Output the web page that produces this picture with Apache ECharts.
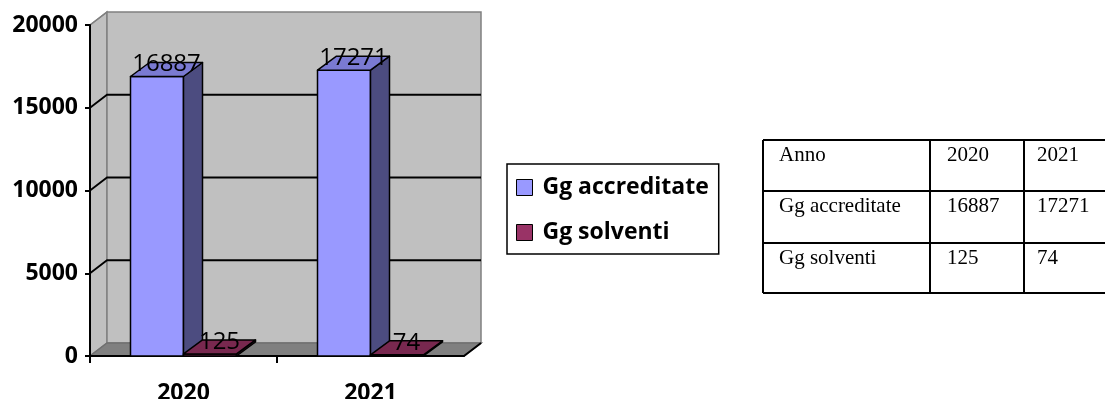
<!DOCTYPE html>
<html>
<head>
<meta charset="utf-8">
<script src="https://cdn.jsdelivr.net/npm/echarts@6/dist/echarts.min.js"></script>
<style>
  html, body { margin: 0; padding: 0; background: #ffffff; }
  #chart { width: 1105px; height: 399px; }
</style>
</head>
<body>
<div id="chart"></div>
<script>
// ---- data ----
const years = ['2020', '2021'];
const seriesNames = ['Gg accreditate', 'Gg solventi'];
const accreditate = [16887, 17271];
const solventi = [125, 74];
const yTicks = [0, 5000, 10000, 15000, 20000];
const tableHeadLabel = 'Anno';

// ---- 3D look ----
const WALL_DX = 17, WALL_DY = -13;   // depth of the chart walls
const BAR_DX = 19, BAR_DY = -14;     // depth of each column
const BAR_W = 53;                    // front face width of each column

const palette = {
  accreditate: { front: '#9999ff', top: '#7a7ad2', side: '#4c4c80' },
  solventi:    { front: '#993366', top: '#78284f', side: '#4d1a33' }
};

const AXIS_FONT = '"Open Sans", "Noto Sans", sans-serif';

function column(colors, side) {
  return function (params, api) {
    const cat = api.value(0), val = api.value(1);
    const top = api.coord([cat, val]);
    const base = api.coord([cat, 0]);
    const x0 = side < 0 ? top[0] - BAR_W : top[0];
    const x1 = x0 + BAR_W;
    const yT = top[1], yB = base[1];
    const edge = { stroke: '#000', lineWidth: 1.5, lineJoin: 'round' };
    return {
      type: 'group',
      children: [
        { type: 'polygon', shape: { points: [[x0, yB], [x1, yB], [x1, yT], [x0, yT]] },
          style: Object.assign({ fill: colors.front }, edge) },
        { type: 'polygon', shape: { points: [[x1, yB], [x1 + BAR_DX, yB + BAR_DY], [x1 + BAR_DX, yT + BAR_DY], [x1, yT]] },
          style: Object.assign({ fill: colors.side }, edge) },
        { type: 'polygon', shape: { points: [[x0, yT], [x1, yT], [x1 + BAR_DX, yT + BAR_DY], [x0 + BAR_DX, yT + BAR_DY]] },
          style: Object.assign({ fill: colors.top }, edge) },
        { type: 'text', z2: 10,
          style: { text: String(val), x: (x0 + x1) / 2 + BAR_DX / 2, y: yT,
                   align: 'center', verticalAlign: 'bottom',
                   textAlign: 'center', textVerticalAlign: 'bottom',
                   font: '500 24px ' + AXIS_FONT, fill: '#000' } }
      ]
    };
  };
}

function walls(params, api) {
  const cs = params.coordSys;
  const L = cs.x, R = cs.x + cs.width, T = cs.y, B = cs.y + cs.height;
  const dx = WALL_DX, dy = WALL_DY;
  const children = [
    { type: 'polygon', shape: { points: [[L, B], [L + dx, B + dy], [L + dx, T + dy], [L, T]] },
      style: { fill: '#c0c0c0', stroke: '#808080', lineWidth: 1.5 } },
    { type: 'polygon', shape: { points: [[L + dx, T + dy], [R + dx, T + dy], [R + dx, B + dy], [L + dx, B + dy]] },
      style: { fill: '#c0c0c0', stroke: '#808080', lineWidth: 1.5 } },
    { type: 'polygon', shape: { points: [[L, B], [R, B], [R + dx, B + dy], [L + dx, B + dy]] },
      style: { fill: '#808080', stroke: '#707070', lineWidth: 1.5 } },
    { type: 'line', shape: { x1: R, y1: B, x2: R + dx, y2: B + dy },
      style: { stroke: '#000', lineWidth: 2 } },
    { type: 'line', shape: { x1: L, y1: T, x2: L + dx, y2: T + dy },
      style: { stroke: '#808080', lineWidth: 1.5 } }
  ];
  yTicks.slice(1, -1).forEach(function (v) {
    const y = api.coord([0, v])[1];
    children.push({ type: 'polyline', shape: { points: [[L, y], [L + dx, y + dy], [R + dx, y + dy]] },
      style: { stroke: '#000', lineWidth: 1.8, fill: null } });
  });
  // category boundary ticks below the front edge (none at the far right end)
  const band = api.size([1, 0])[0];
  years.forEach(function (y, i) {
    const x = Math.round(L + i * band);
    children.push({ type: 'line', shape: { x1: x, y1: B, x2: x, y2: B + 7 },
      style: { stroke: '#000', lineWidth: 2 } });
  });
  return { type: 'group', children: children };
}

// ---- data table on the right ----
function buildTable() {
  const colX = [763, 930, 1024, 1130];
  const rowY = [140, 191, 243, 293];
  const textX = [779, 947, 1037];
  const rows = [
    [tableHeadLabel].concat(years),
    [seriesNames[0]].concat(accreditate.map(String)),
    [seriesNames[1]].concat(solventi.map(String))
  ];
  const els = [];
  rowY.forEach(function (y) {
    els.push({ type: 'line', shape: { x1: colX[0], y1: y, x2: colX[3], y2: y },
      style: { stroke: '#000', lineWidth: 2 } });
  });
  colX.forEach(function (x) {
    els.push({ type: 'line', shape: { x1: x, y1: rowY[0], x2: x, y2: rowY[3] },
      style: { stroke: '#000', lineWidth: 2 } });
  });
  rows.forEach(function (r, ri) {
    r.forEach(function (cell, ci) {
      els.push({ type: 'text', x: textX[ci], y: rowY[ri] + 15,
        style: { text: cell, font: '21px "Liberation Serif", "Times New Roman", serif',
                 fill: '#000', align: 'left', verticalAlign: 'middle',
                 textAlign: 'left', textVerticalAlign: 'middle' } });
    });
  });
  return els;
}

const chart = echarts.init(document.getElementById('chart'), null, { renderer: 'canvas' });

chart.setOption({
  animation: false,
  backgroundColor: '#ffffff',
  grid: { left: 90, top: 25, width: 374, height: 331, containLabel: false, outerBoundsMode: 'none' },
  xAxis: {
    type: 'category',
    data: years,
    boundaryGap: true,
    axisLine: { lineStyle: { color: '#000', width: 2 } },
    axisTick: { show: false },
    axisLabel: { color: '#000', fontSize: 23, fontWeight: 'bold', fontFamily: AXIS_FONT,
                 margin: 26, lineHeight: 23 },
    splitLine: { show: false },
    z: 5
  },
  yAxis: {
    type: 'value',
    min: 0, max: 20000, interval: 5000,
    axisLine: { show: true, lineStyle: { color: '#000', width: 2 } },
    axisTick: { show: true, length: 5, lineStyle: { color: '#000', width: 2 } },
    axisLabel: { color: '#000', fontSize: 23, fontWeight: 'bold', fontFamily: AXIS_FONT,
                 margin: 12, padding: [12, 0, 0, 0],
                 formatter: function (v) { return String(v); } },
    splitLine: { show: false },
    z: 5
  },
  legend: {
    orient: 'vertical',
    left: 507, top: 164,
    data: seriesNames,
    icon: 'rect',
    itemWidth: 16, itemHeight: 16, itemGap: 22,
    padding: [12, 10, 10, 9],
    borderColor: '#000', borderWidth: 1.5,
    itemStyle: { borderColor: '#000', borderWidth: 1 },
    textStyle: { color: '#000', fontSize: 23, fontWeight: 'bold', fontFamily: AXIS_FONT,
                 lineHeight: 22, padding: [0, 0, 0, 5] },
    selectedMode: false
  },
  series: [
    { type: 'custom', name: 'walls', silent: true, z: 0,
      renderItem: walls, data: [[0, 0]] },
    { type: 'custom', name: seriesNames[0], z: 10,
      itemStyle: { color: palette.accreditate.front },
      renderItem: column(palette.accreditate, -1),
      data: accreditate.map(function (v, i) { return [i, v]; }) },
    { type: 'custom', name: seriesNames[1], z: 11,
      itemStyle: { color: palette.solventi.front },
      renderItem: column(palette.solventi, 1),
      data: solventi.map(function (v, i) { return [i, v]; }) }
  ],
  graphic: buildTable()
});
</script>
</body>
</html>
